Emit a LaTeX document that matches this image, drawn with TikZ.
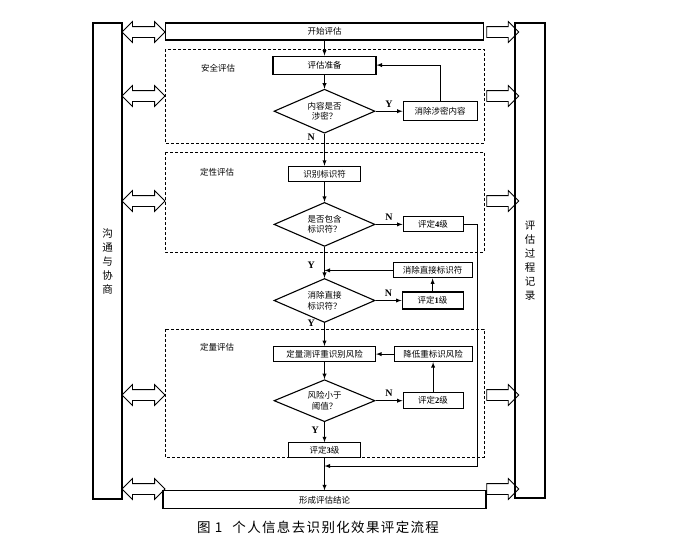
\documentclass[tikz,border=0pt]{standalone}
\usepackage{fontspec}
\setmainfont{Noto Sans CJK SC}
\newfontfamily\latin{Liberation Serif}
\usetikzlibrary{positioning}
\usetikzlibrary{arrows}
\usetikzlibrary{shapes}

\newcommand{\yn}[1]{{\latin\bfseries\fontsize{10}{10}\selectfont #1}}
\newcommand{\lvnum}[1]{{\latin\bfseries #1}}

\begin{document}
\begin{tikzpicture}[x=1pt, y=-1pt, >=latex,
box/.style={draw, line width=1.1pt, rectangle, minimum height=15pt, inner sep=1pt,
font=\fontsize{8.5}{10}\selectfont},
    check/.style={draw, line width=1.1pt, diamond, aspect=2.2, minimum width=101pt,
    minimum height=44pt, inner sep=0pt, align=center, font=\fontsize{8.5}{10.5}\selectfont},
    flow/.style={line width=0.9pt, ->},
    zone/.style={line width=0.9pt, dash pattern=on 3pt off 2pt},
    side/.style={draw, line width=1.1pt, rectangle, align=center,
    font=\fontsize{10.5}{14}\selectfont},
    twoway/.style={draw, line width=0.8pt, double arrow, double arrow head extend=5pt,
    minimum height=43pt, inner sep=5pt},
    oneway/.style={draw, line width=0.8pt, single arrow, single arrow head extend=5pt,
    minimum height=32pt, inner sep=5pt},
    zonelabel/.style={font=\fontsize{8.5}{10}\selectfont}]
    \useasboundingbox (0,0) rectangle (685,554);
    \node[box, minimum width=318pt, minimum height=17pt] (start) at (324.5,31.5) {开始评估};
    \node[box, minimum width=103pt, minimum height=18pt] (prep) [below=15pt of start] {评估准备};
    \node[check] (secret) [below=14pt of prep] {内容是否\\涉密？};
    \node[box, minimum width=74pt, minimum height=19pt] (purge) [right=27pt of secret] {消除涉密内容};
    \node[box, minimum width=72pt] (ident) [below=32pt of secret] {识别标识符};
    \node[check] (hasid) [below=20pt of ident] {是否包含\\标识符？};
    \node[box, minimum width=60pt] (lvfour) [right=27pt of hasid] {评定\lvnum{4}级};
    \node[check] (direct) [below=31pt of hasid] {消除直接\\标识符？};
    \node[box, minimum width=61pt, minimum height=17pt] (lvone) [right=26pt of direct] {评定\lvnum{1}级};
    \node[box, minimum width=79pt] (cutdirect) [above=13pt of lvone] {消除直接标识符};
    \node[box, minimum width=102pt] (quant) [below=23pt of direct] {定量测评重识别风险};
    \node[check, minimum height=42pt] (risk) [below=17pt of quant] {风险小于\\阈值？};
    \node[box, minimum width=60pt, minimum height=16pt] (lvtwo) [right=27pt of risk] {评定\lvnum{2}级};
    \node[box, minimum width=78pt] (reduce) [above=30pt of lvtwo] {降低重标识风险};
    \node[box, minimum width=72pt] (lvthree) [below=20pt of risk] {评定\lvnum{3}级};
    \node[box, minimum width=323pt, minimum height=18pt] (result) [below=32pt of lvthree] {形成评估结论};

    \node[side, minimum width=29pt, minimum height=476pt] (talk) at (107.5,261) {沟\\通\\与\\协\\商};
    \node[side, minimum width=30pt, minimum height=475pt] (record) at (530,260.5) {评\\估\\过\\程\\记\\录};
    \foreach \y [count=\i] in {32,96,201,395,489} {
        \node[twoway] (talk\i) at (143.5,\y) {};
        \node[oneway] (log\i) at (500,\y) {};
    }

    \draw[zone] (165,49) rectangle (484,143);
    \draw[zone] (165,152) rectangle (484,252);
    \draw[zone] (165,329) rectangle (484,457);
    \node[zonelabel] (safety) at (218,68) {安全评估};
    \node[zonelabel] (quality) at (217,172) {定性评估};
    \node[zonelabel] (quantity) at (217,347) {定量评估};

    \node[font=\fontsize{13.5}{16}\selectfont] (caption) at (318,527)
    {\addfontfeature{LetterSpace=10}图 1\hspace{10pt}个人信息去识别化效果评定流程};

\draw[flow] (start) -- (prep);
\draw[flow] (prep) -- (secret);
\draw[flow] (secret) -- node[above] {\yn{Y}} (purge);
\draw[flow] (purge.north) |- (prep.east);
\draw[flow] (secret) -- node[pos=0.12, left=6pt] {\yn{N}} (ident);
\draw[flow] (ident) -- (hasid);
\draw[flow] (hasid) -- node[above] {\yn{N}} (lvfour);
\draw[flow] (hasid) -- node[pos=0.6, left=6pt] {\yn{Y}} (direct);
\draw[flow] (cutdirect.west) -- (cutdirect.west -| direct.north);
\draw[flow] (direct) -- node[above] {\yn{N}} (lvone);
\draw[flow] (lvone) -- (cutdirect);
\draw[flow] (direct) -- node[pos=0.02, left=6pt] {\yn{Y}} (quant);
\draw[flow] (reduce) -- (quant);
\draw[flow] (quant) -- (risk);
\draw[flow] (risk) -- node[above] {\yn{N}} (lvtwo);
\draw[flow] (lvtwo) -- (reduce);
\draw[flow] (risk) -- node[pos=0.4, left=2pt] {\yn{Y}} (lvthree);
\draw[flow] (lvthree) -- (result);
\coordinate (back) at (477,466);
\draw[flow] (lvfour.east) -| (back) -- (back -| lvthree.south);
\end{tikzpicture}
\end{document}
